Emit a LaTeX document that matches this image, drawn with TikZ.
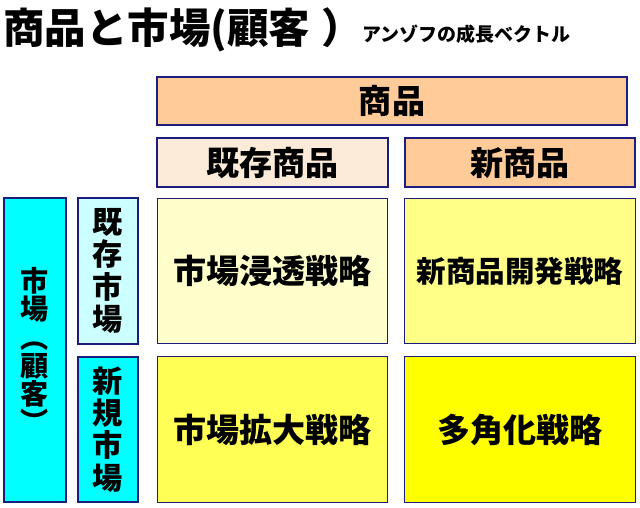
\documentclass[tikz,border=0pt]{standalone}
\usepackage{fontspec}
\usepackage{tikz}
\newfontfamily\jp{Noto Sans CJK JP Black}
\definecolor{frame}{HTML}{1C1C7C}
\definecolor{peach}{HTML}{FFCC99}
\definecolor{paleorange}{HTML}{FDEBDA}
\definecolor{cream}{HTML}{FFFFCC}
\definecolor{lemon}{HTML}{FFFF88}
\definecolor{sun}{HTML}{FFFF55}
\definecolor{lemonyellow}{HTML}{FFFF00}
\definecolor{aqua}{HTML}{00FFFF}
\definecolor{paleaqua}{HTML}{CCFFFF}

\begin{document}
\begin{tikzpicture}[x=0.025cm, y=-0.025cm, every node/.style={font=\jp},
  box/.style={draw=frame, line width=0.9pt, inner sep=0pt, align=center}]
  \useasboundingbox (0,0) rectangle (640,508);
  \node[anchor=base west, inner sep=0pt, font=\jp\fontsize{29.5}{31}\selectfont] (title) at (3,43) {商品と市場(顧客\hspace{8pt}）};
  \node[anchor=base west, inner sep=0pt, font=\jp\fontsize{13.5}{15}\selectfont] (sub) at (362,41) {アンゾフの成長ベクトル};
  % product axis
  \node[box, fill=peach, minimum width=11.75cm, minimum height=1.2cm, font=\jp\fontsize{23.5}{25}\selectfont] (prod) at (392,101) {商品};
  \node[box, fill=paleorange, minimum width=5.775cm, minimum height=1.225cm, font=\jp\fontsize{23.5}{25}\selectfont] (oldprod) at (272.5,162.5) {既存商品};
  \node[box, fill=peach, minimum width=5.75cm, minimum height=1.225cm, font=\jp\fontsize{23.5}{25}\selectfont] (newprod) at (520,162.5) {新商品};
  % market axis
  \node[box, fill=aqua, minimum width=1.55cm, minimum height=7.6cm, font=\jp\fontsize{20}{20}\selectfont] (mkt) at (35,350) {市\\場\\︵\\顧\\客\\︶};
  \node[box, fill=paleaqua, minimum width=1.5cm, minimum height=3.65cm, font=\jp\fontsize{21.5}{23}\selectfont] (oldmkt) at (108,271) {既\\存\\市\\場};
  \node[box, fill=aqua, minimum width=1.5cm, minimum height=3.625cm, font=\jp\fontsize{21.5}{23}\selectfont] (newmkt) at (108,429.5) {新\\規\\市\\場};
  % strategies
  \foreach \name/\x/\y/\txt/\shade/\sz in {pen/272.5/271/市場浸透戦略/cream/23.5, dev/520/271/新商品開発戦略/lemon/21, ext/272.5/429.5/市場拡大戦略/sun/23.5, div/520/429.5/多角化戦略/lemonyellow/23.5} {
    \node[box, fill=\shade, minimum width=5.76cm, minimum height=3.64cm, font=\jp\fontsize{\sz}{\sz}\selectfont] (\name) at (\x,\y) {\txt};
  }
\end{tikzpicture}
\end{document}
